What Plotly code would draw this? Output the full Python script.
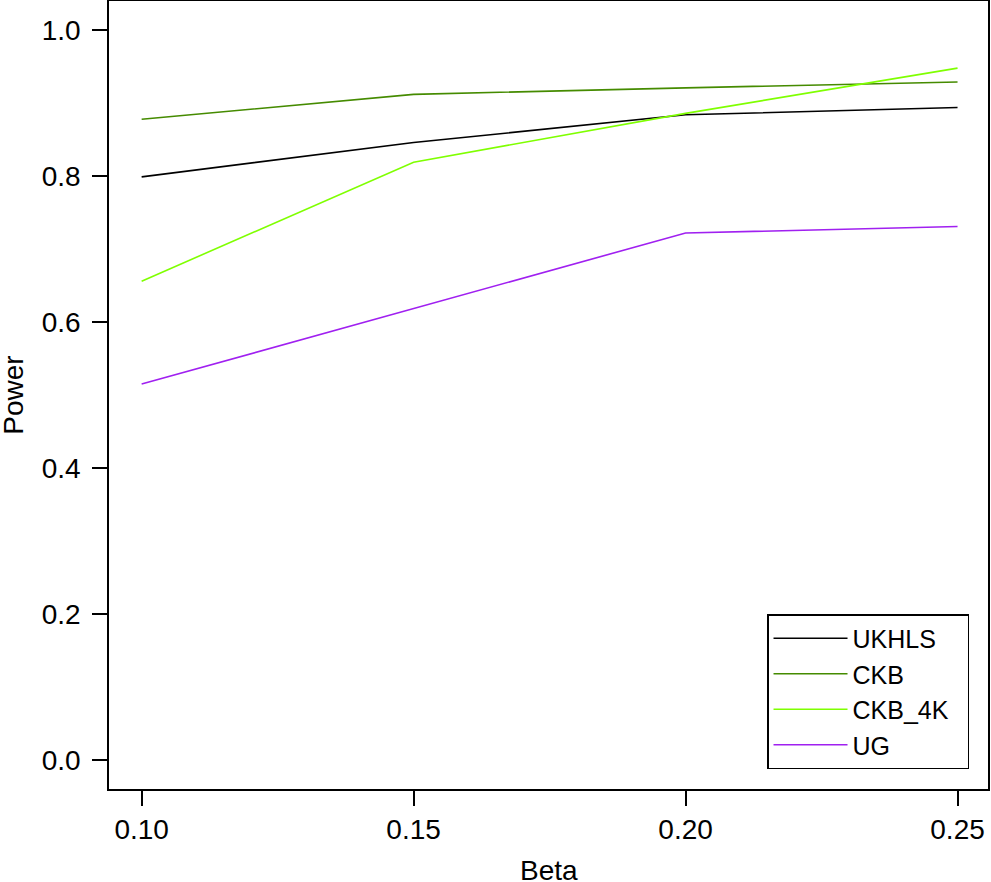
import plotly.graph_objects as go

beta = [0.10, 0.15, 0.20, 0.25]
series_names = ["UKHLS", "CKB", "CKB_4K", "UG"]
ukhls = [0.799, 0.846, 0.884, 0.894]
ckb = [0.878, 0.912, 0.921, 0.929]
ckb_4k = [0.656, 0.819, 0.886, 0.948]
ug = [0.515, 0.619, 0.722, 0.731]
x_ticks = [0.10, 0.15, 0.20, 0.25]
x_tick_labels = ["0.10", "0.15", "0.20", "0.25"]
y_ticks = [0.0, 0.2, 0.4, 0.6, 0.8, 1.0]
y_tick_labels = ["0.0", "0.2", "0.4", "0.6", "0.8", "1.0"]
x_title = "Beta"
y_title = "Power"

colors = ["#000000", "#458B00", "#7FFF00", "#A020F0"]
values = [ukhls, ckb, ckb_4k, ug]

FONT = "Liberation Sans, Arial, Helvetica, sans-serif"

fig = go.Figure()
for name, vals, col in zip(series_names, values, colors):
    label = name + ("\u00a0\u00a0" if name == "CKB_4K" else "")
    fig.add_trace(go.Scatter(x=beta, y=vals, mode="lines", name=label,
                             line=dict(color=col, width=1.6)))

fig.update_layout(
    template="none",
    width=991, height=882,
    margin=dict(l=109, r=3, t=1, b=93, autoexpand=False),
    paper_bgcolor="white", plot_bgcolor="white",
    font=dict(family=FONT, size=28, color="black"),
    showlegend=True,
    legend=dict(
        x=0.7486, y=0.222, xanchor="left", yanchor="top",
        bordercolor="black", borderwidth=1.5, bgcolor="white",
        font=dict(family=FONT, size=25, color="black"),
        tracegroupgap=0, itemwidth=74,
    ),
    annotations=[
        dict(text=x_title, xref="paper", yref="paper", x=0.5, y=-0.081,
             xanchor="center", yanchor="top", showarrow=False,
             font=dict(family=FONT, size=28, color="black")),
        dict(text=y_title, xref="paper", yref="paper", x=-0.1095, y=0.5,
             xanchor="center", yanchor="middle", textangle=-90, showarrow=False,
             font=dict(family=FONT, size=28, color="black")),
    ],
)
fig.update_xaxes(
    automargin=False,
    range=[0.0940, 0.2556], tickvals=x_ticks, ticktext=x_tick_labels,
    showgrid=False, zeroline=False,
    showline=True, mirror=True, linecolor="black", linewidth=1.5,
    ticks="outside", ticklen=15, tickwidth=1.5, tickcolor="black",
    tickfont=dict(family=FONT, size=28),
)
fig.update_yaxes(
    automargin=False,
    range=[-0.04, 1.04], tickvals=y_ticks, ticktext=y_tick_labels,
    showgrid=False, zeroline=False,
    showline=True, mirror=True, linecolor="black", linewidth=1.5,
    ticks="outside", ticklen=15, tickwidth=1.5, tickcolor="black",
    tickfont=dict(family=FONT, size=28), ticklabelstandoff=6,
)

fig.write_html("out.html", config={"displayModeBar": False},
               post_script="document.body.style.margin='0';")
